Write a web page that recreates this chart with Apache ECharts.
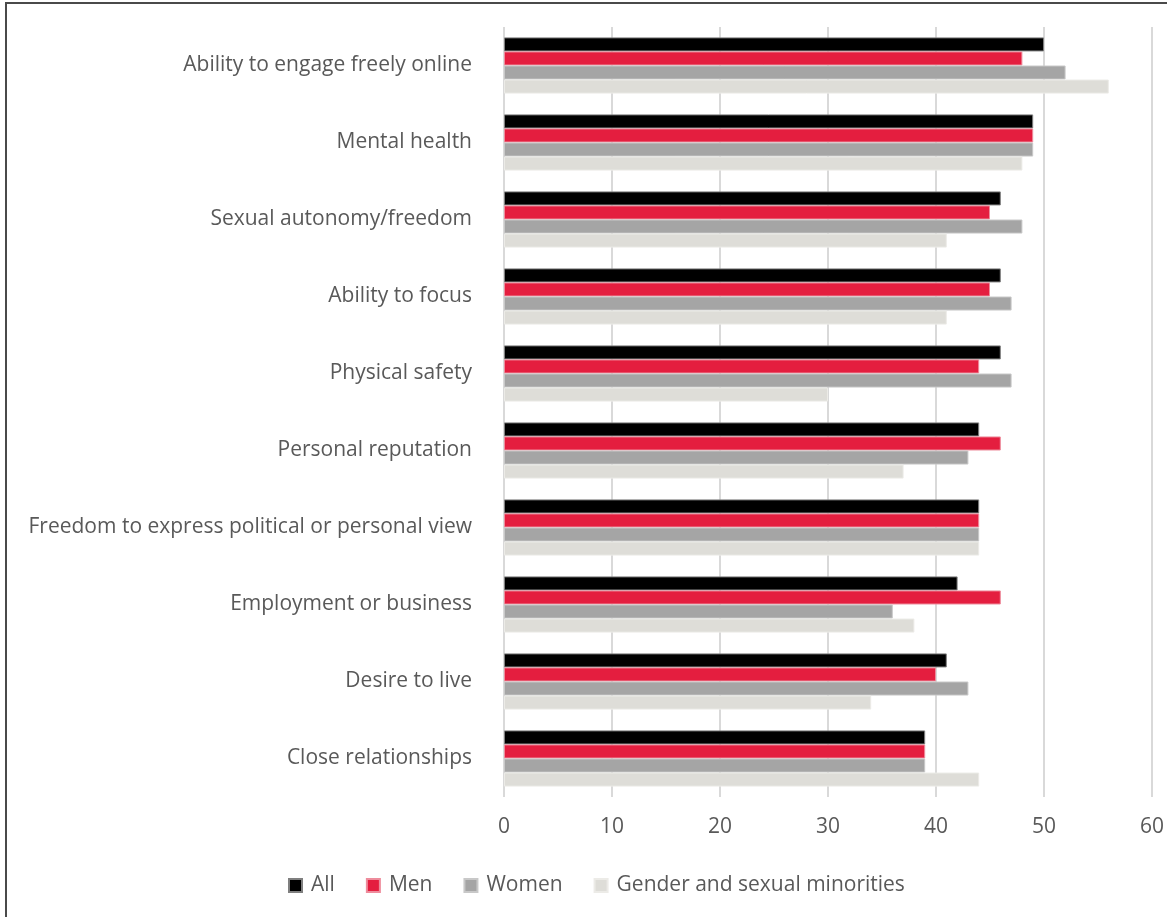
<!DOCTYPE html>
<html>
<head>
<meta charset="utf-8">
<style>
  html, body { margin: 0; padding: 0; background: #ffffff; }
  #chart { width: 1167px; height: 917px; }
</style>
<script src="https://cdn.jsdelivr.net/npm/echarts@6/dist/echarts.min.js"></script>
</head>
<body>
<div id="chart"></div>
<script>
// Areas of life affected, share of respondents (%)
const categories = [
  'Ability to engage freely online',
  'Mental health',
  'Sexual autonomy/freedom',
  'Ability to focus',
  'Physical safety',
  'Personal reputation',
  'Freedom to express political or personal view',
  'Employment or business',
  'Desire to live',
  'Close relationships'
];
const seriesNames = ['All', 'Men', 'Women', 'Gender and sexual minorities'];
const allValues   = [50, 49, 46, 46, 46, 44, 44, 42, 41, 39];
const menValues   = [48, 49, 45, 45, 44, 46, 44, 46, 40, 39];
const womenValues = [52, 49, 48, 47, 47, 43, 44, 36, 43, 39];
const gsmValues   = [56, 48, 41, 41, 30, 37, 44, 38, 34, 44];
const xTicks = [0, 10, 20, 30, 40, 50, 60];

const colors = ['#000000', '#E41E3F', '#A5A5A5', '#DEDDD8'];
const edges  = ['#7f7f7f', '#ee8c9c', '#c8c8c8', '#ecebe7'];
const textColor = '#595959';
const font = '"Open Sans", sans-serif';

const chart = echarts.init(document.getElementById('chart'), null, { renderer: 'canvas' });

const valueSets = [allValues, menValues, womenValues, gsmValues];

chart.setOption({
  animation: false,
  color: colors,
  textStyle: { fontFamily: font },
  graphic: [{
    type: 'rect',
    shape: { x: 6, y: 3, width: 1400, height: 1200 },
    style: { fill: 'none', stroke: '#4a4a4a', lineWidth: 2 },
    silent: true
  }],
  grid: { left: 504, right: 13, top: 27, bottom: 120, containLabel: false },
  legend: {
    data: seriesNames,
    top: 870,
    left: 283,
    icon: 'rect',
    itemWidth: 13,
    itemHeight: 13,
    itemGap: 31,
    textStyle: { color: textColor, fontSize: 21, fontFamily: font, padding: [0, 0, 0, 4] }
  },
  xAxis: {
    type: 'value',
    min: xTicks[0],
    max: xTicks[xTicks.length - 1],
    interval: 10,
    axisLine: { show: false },
    axisTick: { show: false },
    splitLine: { show: true, lineStyle: { color: '#D9D9D9', width: 2 } },
    axisLabel: {
      color: textColor, fontSize: 21, fontFamily: font, margin: 20,
      formatter: v => String(v)
    }
  },
  yAxis: {
    type: 'category',
    data: categories,
    inverse: true,
    axisLine: { show: false },
    axisTick: { show: false },
    axisLabel: { color: textColor, fontSize: 21, fontFamily: font, margin: 32 }
  },
  series: seriesNames.map((name, i) => ({
    name,
    type: 'bar',
    data: valueSets[i],
    barGap: '0%',
    barCategoryGap: '27%',
    itemStyle: { color: colors[i], borderColor: edges[i], borderWidth: 1 }
  }))
});
</script>
</body>
</html>
